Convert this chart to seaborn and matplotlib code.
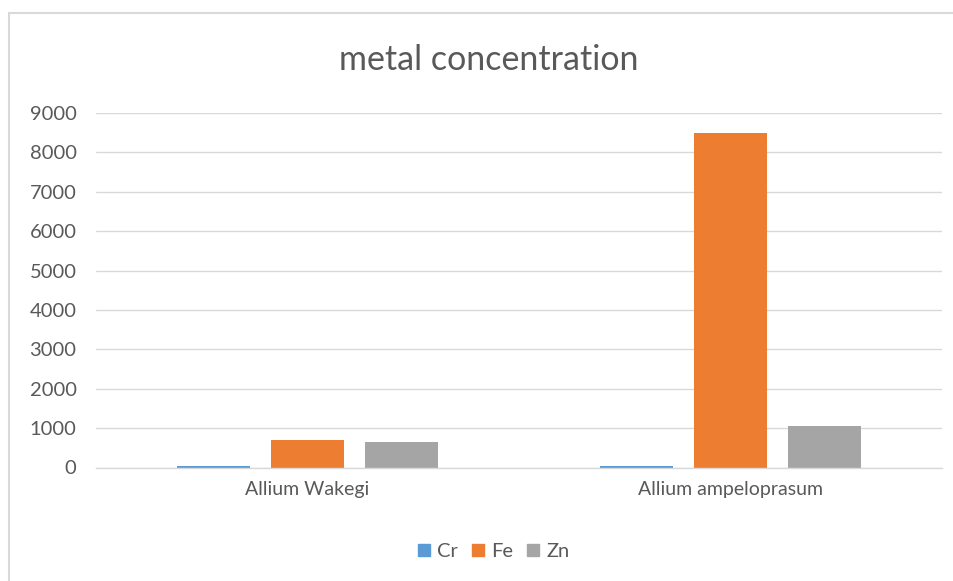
import matplotlib
matplotlib.use("Agg")
import matplotlib.pyplot as plt
import seaborn as sns
import pandas as pd
from matplotlib.lines import Line2D

species = ["Allium Wakegi", "Allium ampeloprasum"]
metals = ["Cr", "Fe", "Zn"]
cr_values = [35, 35]
fe_values = [690, 8480]
zn_values = [650, 1065]
colors = ["#5B9BD5", "#ED7D31", "#A5A5A5"]

df = pd.DataFrame({
    "species": species * 3,
    "metal": [m for m in metals for _ in species],
    "value": cr_values + fe_values + zn_values,
})

sns.set_style("white")
plt.rcParams["font.family"] = ["Lato", "DejaVu Sans"]
text_color = "#595959"

fig = plt.figure(figsize=(9.54, 5.81), dpi=100)
ax = fig.add_axes([96 / 954, 1 - 467.5 / 581, 846 / 954, 354.5 / 581])

sns.barplot(data=df, x="species", y="value", hue="metal", order=species,
            hue_order=metals, palette=colors, width=0.668, gap=0.22,
            saturation=1, linewidth=0, ax=ax, legend=False)

ax.set_ylim(0, 9000)
ax.set_xlim(-0.5, 1.5)
ax.set_yticks(range(0, 9001, 1000))
ax.yaxis.grid(True, color="#d9d9d9", linewidth=1)
ax.set_axisbelow(True)
for side in ["left", "right", "top"]:
    ax.spines[side].set_visible(False)
ax.spines["bottom"].set_color("#d9d9d9")
ax.spines["bottom"].set_linewidth(1)
ax.tick_params(axis="y", length=0, labelsize=14.5, colors=text_color, pad=14)
ax.tick_params(axis="x", length=0, labelsize=14, colors=text_color, pad=10)
ax.set_xlabel("")
ax.set_ylabel("")

fig.text(489 / 954, 1 - 60 / 581, "metal concentration", ha="center",
         va="center", fontsize=24.5, color=text_color)

handles = [Line2D([], [], marker="s", linestyle="", markersize=8.5,
                  markerfacecolor=c, markeredgecolor=c) for c in colors]
fig.legend(handles, metals, loc="center", bbox_to_anchor=(493 / 954, 1 - 551 / 581),
           ncol=3, frameon=False, fontsize=14.5, handlelength=0.7,
           handletextpad=0.3, columnspacing=0.65, labelcolor=text_color)

# chart border (left and top edges visible)
fig.add_artist(Line2D([9 / 954, 9 / 954], [0, 1 - 13 / 581], transform=fig.transFigure,
                      color="#d9d9d9", linewidth=1.5))
fig.add_artist(Line2D([9 / 954, 1], [1 - 13 / 581, 1 - 13 / 581], transform=fig.transFigure,
                      color="#d9d9d9", linewidth=1.5))

fig.savefig("out.png", dpi=100)
